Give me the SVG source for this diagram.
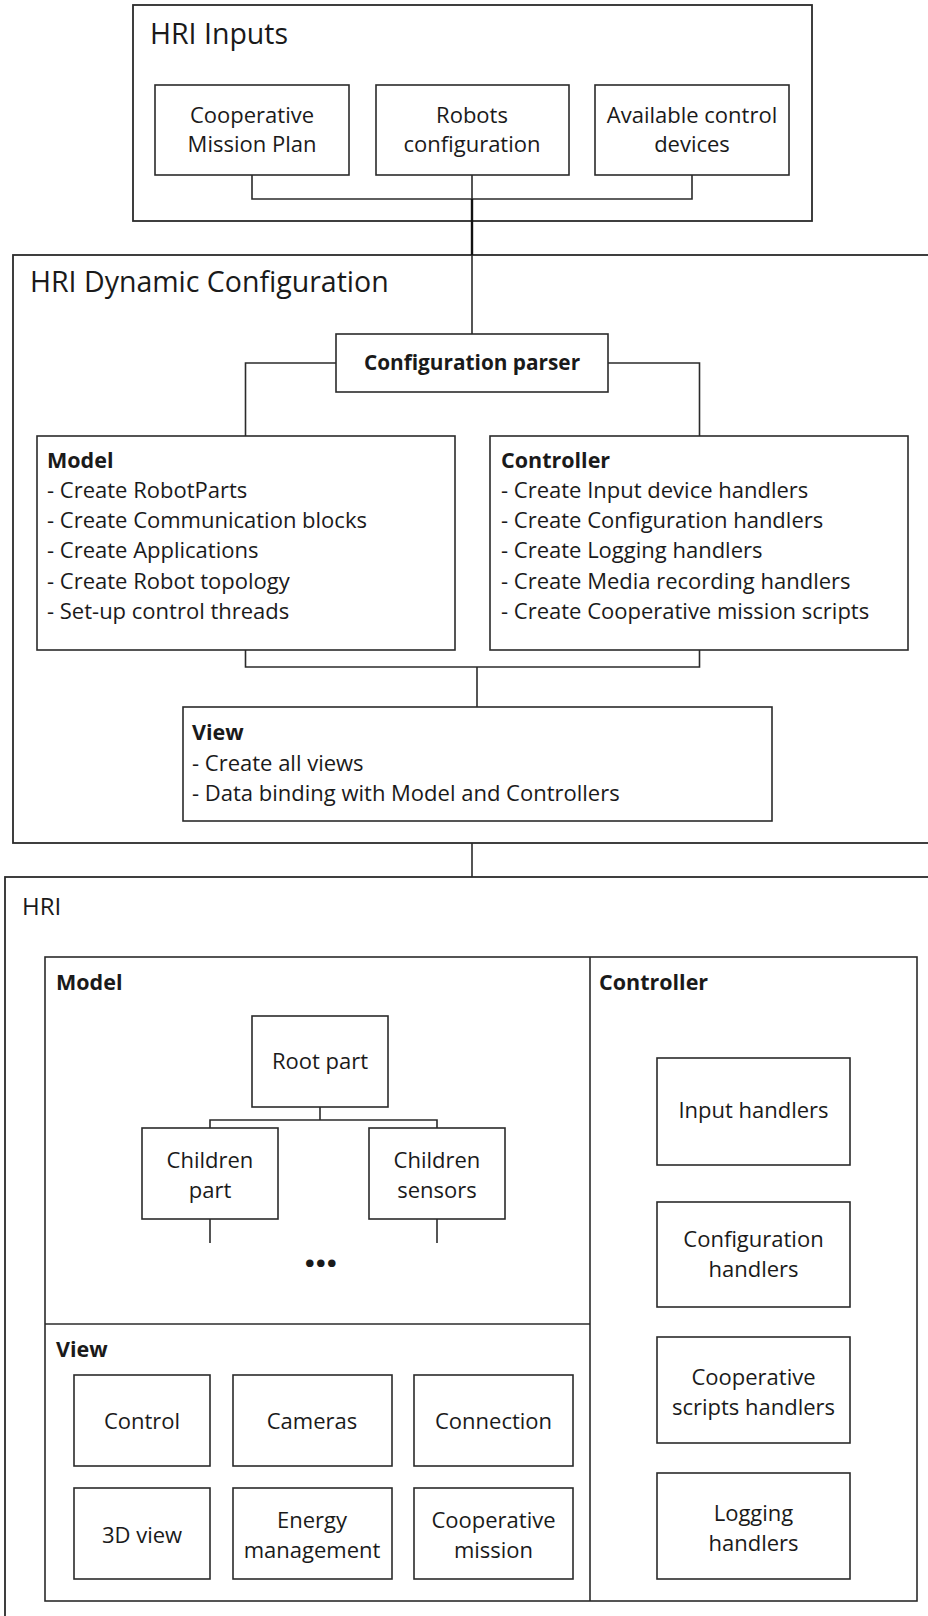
<svg xmlns="http://www.w3.org/2000/svg" width="928" height="1616" viewBox="0 0 928 1616">
<style>
  .frame { fill: #fff; stroke: #2b2b2b; stroke-width: 1.8; }
  .box { fill: #fff; stroke: #2b2b2b; stroke-width: 1.6; }
  .conn { fill: none; stroke: #2b2b2b; stroke-width: 1.6; }
  .thick { fill: none; stroke: #111; stroke-width: 2.4; }
  text { font-family: "Open Sans", "Noto Sans", "Liberation Sans", sans-serif; fill: #1a1a1a; }
  .title { font-size: 28.5px; }
  .t { font-size: 22px; }
  .c { font-size: 22px; text-anchor: middle; }
  .b { font-size: 21.5px; font-weight: bold; }
  .bc { font-size: 20.8px; font-weight: bold; text-anchor: middle; }
</style>
<rect width="928" height="1616" fill="#fff"/>

<!-- ===== HRI Inputs ===== -->
<g id="hri-inputs">
  <rect class="frame" x="133" y="5" width="679" height="216"/>
  <text class="title" x="150" y="44">HRI Inputs</text>
</g>
<g id="mission-plan">
  <rect class="box" x="155" y="85" width="194" height="90"/>
  <text class="c" x="252" y="123">Cooperative</text>
  <text class="c" x="252" y="152">Mission Plan</text>
</g>
<g id="robots-config">
  <rect class="box" x="376" y="85" width="193" height="90"/>
  <text class="c" x="472" y="123">Robots</text>
  <text class="c" x="472" y="152">configuration</text>
</g>
<g id="control-devices">
  <rect class="box" x="595" y="85" width="194" height="90"/>
  <text class="c" x="692" y="123">Available control</text>
  <text class="c" x="692" y="152">devices</text>
</g>

<!-- ===== HRI Dynamic Configuration ===== -->
<g id="hri-dynamic-config">
  <rect class="frame" x="13" y="255" width="922" height="588"/>
  <text class="title" x="30" y="292">HRI Dynamic Configuration</text>
</g>
<g id="config-parser">
  <rect class="box" x="336" y="334" width="272" height="58"/>
  <text class="bc" x="472" y="370">Configuration parser</text>
</g>
<g id="dyn-model">
  <rect class="box" x="37" y="436" width="418" height="214"/>
  <text class="b" x="47" y="468">Model</text>
  <text class="t" x="47" y="498">- Create RobotParts</text>
  <text class="t" x="47" y="528">- Create Communication blocks</text>
  <text class="t" x="47" y="558">- Create Applications</text>
  <text class="t" x="47" y="589">- Create Robot topology</text>
  <text class="t" x="47" y="619">- Set-up control threads</text>
</g>
<g id="dyn-controller">
  <rect class="box" x="490" y="436" width="418" height="214"/>
  <text class="b" x="501" y="468">Controller</text>
  <text class="t" x="501" y="498">- Create Input device handlers</text>
  <text class="t" x="501" y="528">- Create Configuration handlers</text>
  <text class="t" x="501" y="558">- Create Logging handlers</text>
  <text class="t" x="501" y="589">- Create Media recording handlers</text>
  <text class="t" x="501" y="619">- Create Cooperative mission scripts</text>
</g>
<g id="dyn-view">
  <rect class="box" x="183" y="707" width="589" height="114"/>
  <text class="b" x="192" y="740">View</text>
  <text class="t" x="192" y="771">- Create all views</text>
  <text class="t" x="192" y="801">- Data binding with Model and Controllers</text>
</g>

<!-- ===== HRI ===== -->
<g id="hri">
  <rect class="frame" x="5" y="877" width="930" height="750"/>
  <text x="22" y="915" style="font-size:24px">HRI</text>
  <rect class="box" x="45" y="957" width="872" height="644"/>
  <line class="conn" x1="590" y1="957" x2="590" y2="1601"/>
  <line class="conn" x1="45" y1="1324" x2="590" y2="1324"/>
  <text class="b" x="56" y="990">Model</text>
  <text class="b" x="599" y="990">Controller</text>
  <text class="b" x="56" y="1357">View</text>
  <text x="320" y="1267" style="font-size:44px;font-weight:bold;text-anchor:middle;letter-spacing:-1.5px">...</text>
</g>
<g id="root-part">
  <rect class="box" x="252" y="1016" width="136" height="91"/>
  <text class="c" x="320" y="1069">Root part</text>
</g>
<g id="children-part">
  <rect class="box" x="142" y="1128" width="136" height="91"/>
  <text class="c" x="210" y="1168">Children</text>
  <text class="c" x="210" y="1198">part</text>
</g>
<g id="children-sensors">
  <rect class="box" x="369" y="1128" width="136" height="91"/>
  <text class="c" x="437" y="1168">Children</text>
  <text class="c" x="437" y="1198">sensors</text>
</g>
<g id="input-handlers">
  <rect class="box" x="657" y="1058" width="193" height="107"/>
  <text class="c" x="753.5" y="1118">Input handlers</text>
</g>
<g id="configuration-handlers">
  <rect class="box" x="657" y="1202" width="193" height="105"/>
  <text class="c" x="753.5" y="1247">Configuration</text>
  <text class="c" x="753.5" y="1277">handlers</text>
</g>
<g id="coop-scripts-handlers">
  <rect class="box" x="657" y="1337" width="193" height="106"/>
  <text class="c" x="753.5" y="1385">Cooperative</text>
  <text class="c" x="753.5" y="1415">scripts handlers</text>
</g>
<g id="logging-handlers">
  <rect class="box" x="657" y="1473" width="193" height="106"/>
  <text class="c" x="753.5" y="1521">Logging</text>
  <text class="c" x="753.5" y="1551">handlers</text>
</g>
<g id="view-control">
  <rect class="box" x="74" y="1375" width="136" height="91"/>
  <text class="c" x="142" y="1429">Control</text>
</g>
<g id="view-cameras">
  <rect class="box" x="233" y="1375" width="159" height="91"/>
  <text class="c" x="312" y="1429">Cameras</text>
</g>
<g id="view-connection">
  <rect class="box" x="414" y="1375" width="159" height="91"/>
  <text class="c" x="493.5" y="1429">Connection</text>
</g>
<g id="view-3d">
  <rect class="box" x="74" y="1488" width="136" height="91"/>
  <text class="c" x="142" y="1543">3D view</text>
</g>
<g id="view-energy">
  <rect class="box" x="233" y="1488" width="159" height="91"/>
  <text class="c" x="312" y="1528">Energy</text>
  <text class="c" x="312" y="1558">management</text>
</g>
<g id="view-coop-mission">
  <rect class="box" x="414" y="1488" width="159" height="91"/>
  <text class="c" x="493.5" y="1528">Cooperative</text>
  <text class="c" x="493.5" y="1558">mission</text>
</g>

<!-- ===== Connectors ===== -->
<g id="connectors">
  <polyline class="conn" points="252,175 252,199 692,199 692,175"/>
  <line class="conn" x1="472" y1="175" x2="472" y2="199"/>
  <line class="thick" x1="472" y1="199" x2="472" y2="255"/>
  <line class="conn" x1="472" y1="255" x2="472" y2="334"/>
  <polyline class="conn" points="336,363 245.5,363 245.5,436"/>
  <polyline class="conn" points="608,363 699.5,363 699.5,436"/>
  <polyline class="conn" points="245.5,650 245.5,667 699.5,667 699.5,650"/>
  <line class="conn" x1="477" y1="667" x2="477" y2="707"/>
  <line class="conn" x1="472" y1="843" x2="472" y2="877"/>
  <line class="conn" x1="320" y1="1107" x2="320" y2="1120"/>
  <polyline class="conn" points="210,1128 210,1120 437,1120 437,1128"/>
  <line class="conn" x1="210" y1="1219" x2="210" y2="1243"/>
  <line class="conn" x1="437" y1="1219" x2="437" y2="1243"/>
</g>
</svg>
